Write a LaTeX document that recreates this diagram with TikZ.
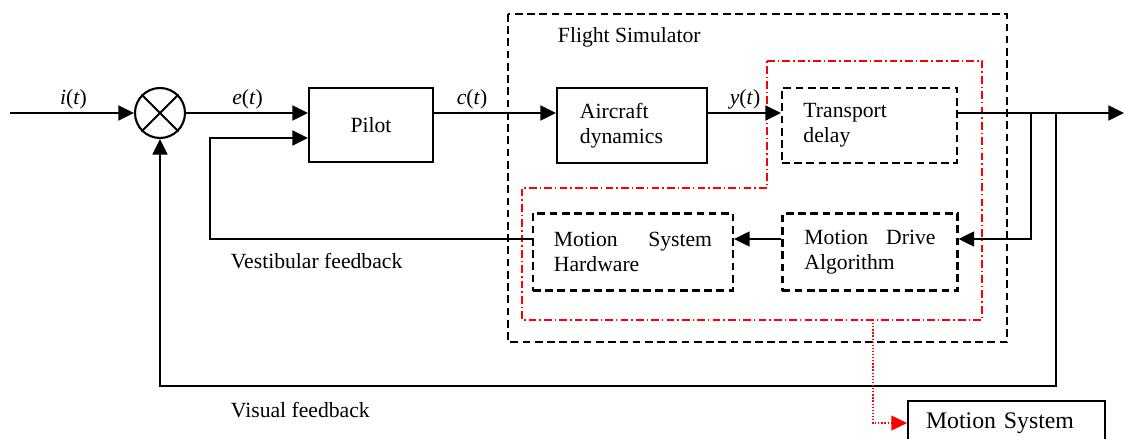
\documentclass[tikz,border=0pt]{standalone}
\usepackage{fontspec}
\setmainfont{Liberation Serif}
\usetikzlibrary{arrows.meta,positioning}

\begin{document}
\begin{tikzpicture}[
    x=0.025cm, y=-0.025cm,
    every node/.style={font=\fontsize{15.4}{17.8}\selectfont},
    box/.style={rectangle, draw, line width=1.5pt, inner sep=0pt, minimum height=1.875cm},
    dbox/.style={box, dash pattern=on 5.5pt off 3.2pt},
    arrow/.style={-{Triangle[length=0.39cm, width=0.37cm]}, line width=1.6pt},
    redarrow/.style={-{Triangle[length=0.39cm, width=0.37cm]}, red, line width=0.9pt, dash pattern=on 0.9pt off 1.3pt},
    sigtext/.style={inner sep=0pt}
]
    \useasboundingbox (0,0) rectangle (1125,439);
    \clip (0,0) rectangle (1125,439);

    % frames
    \draw[line width=1.5pt, dash pattern=on 5.5pt off 3.2pt] (508,14) rectangle (1007,342);
    \draw[red, line width=1.2pt, dash pattern=on 5.5pt off 2.2pt on 1pt off 2.2pt]
        (767,61) -- (982,61) -- (982,320) -- (522,320) -- (522,188) -- (767,188) -- cycle;
    \node[anchor=west] (fsim) at (553,37) {Flight Simulator};

    % blocks
    \node[circle, draw, line width=1.5pt, minimum size=1.25cm, inner sep=0pt] (sum) at (160,113) {};
    \draw[line width=1.5pt] (sum.north west) -- (sum.south east) (sum.north east) -- (sum.south west);
    \node[box, minimum width=3.1cm, minimum height=1.85cm] (pilot) at (371,125) {Pilot};
    \node[box, minimum width=3.75cm, text width=2.6cm, align=left] (aircraft) at (632,125.5) {Aircraft\\dynamics};
    \node[dbox, minimum width=4.375cm, text width=3.3cm, align=left] (delay) at (869.5,125.5) {Transport\\delay};
    \node[dbox, minimum width=4.375cm, minimum height=1.925cm, text width=3.275cm, align=left] (drive) at (870,252) {Motion\hfill Drive\\Algorithm};
    \node[dbox, minimum width=5cm, minimum height=1.925cm, text width=3.95cm, align=left] (hardware) at (633,252) {Motion\hfill System\\Hardware};
    \node[box, anchor=north west, minimum width=4.925cm, minimum height=1.1cm, text width=4.025cm, align=left,
        font=\fontsize{16.9}{20}\selectfont] (motion) at (907,400) {Motion System};

    % signal labels
    \node[sigtext] (it) at (73.5,99) {\textit{i}(\textit{t})};
    \node[sigtext] (et) at (247.5,99) {\textit{e}(\textit{t})};
    \node[sigtext] (ct) at (472,99) {\textit{c}(\textit{t})};
    \node[sigtext] (yt) at (745,99) {\textit{y}(\textit{t})};
    \node[anchor=west] (vestlabel) at (226,261) {Vestibular feedback};
    \node[anchor=west] (vislabel) at (226,410) {Visual feedback};

    % connectors
    \coordinate (input) at (10,113);
    \coordinate (output) at (1124,113);
    \coordinate (split1) at (1031,113);
    \coordinate (split2) at (1056,113);
    \coordinate (visual) at (1056,386);
    \coordinate (vest) at (210,239);
    \coordinate (vestin) at (210,138);
    \coordinate (tap) at (873,320);

    \draw[arrow] (input) -- (sum);
    \draw[arrow] (sum) -- (sum.east -| pilot.west);
    \draw[arrow] (vest -| hardware.west) -- (vest) -- (vestin) -- (vestin -| pilot.west);
    \draw[arrow] (pilot.east |- input) -- (aircraft.west |- input);
    \draw[arrow] (aircraft.east |- input) -- (delay.west |- input);
    \draw[arrow] (delay.east |- input) -- (output);
    \draw[arrow] (split1) -- (split1 |- vest) -- (drive.east |- vest);
    \draw[arrow] (drive.west |- vest) -- (hardware.east |- vest);
    \draw[arrow] (split2) -- (visual) -- (visual -| sum) -- (sum);
    \draw[redarrow] (tap) -- (tap |- motion.west) -- (motion.west);
\end{tikzpicture}
\end{document}
